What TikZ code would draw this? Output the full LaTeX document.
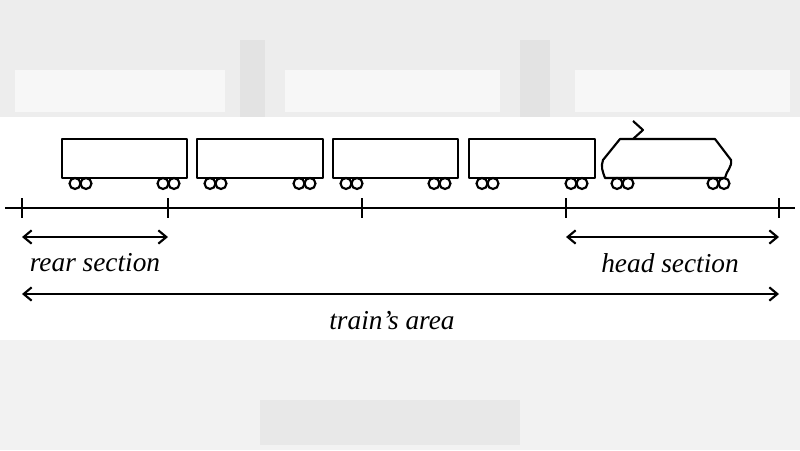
\documentclass[tikz,border=0pt]{standalone}
\usepackage{fontspec}
\setmainfont{Liberation Serif}
\usetikzlibrary{arrows.meta}
\begin{document}
\begin{tikzpicture}[x=0.75pt,y=-0.75pt,
  line/.style={line width=1.6pt, line join=round},
  wheel/.style={line width=1.6pt, fill=white},
  tick/.style={line width=1.3pt},
  dim/.style={line width=1.6pt,{Straight Barb[length=6pt,width=10pt]}-{Straight Barb[length=6pt,width=10pt]}},
  lab/.style={font=\fontsize{20.5}{24}\selectfont\itshape}]
\useasboundingbox (0,0) rectangle (800,450);
% blurred background bands
\fill[black!7] (0,0) rectangle (800,117);
\fill[black!3] (15,70) rectangle (225,112);
\fill[black!3] (285,70) rectangle (500,112);
\fill[black!3] (575,70) rectangle (790,112);
\fill[black!11] (240,40) rectangle (265,117);
\fill[black!11] (520,40) rectangle (550,117);
\fill[black!5] (0,340) rectangle (800,450);
\fill[black!9] (260,400) rectangle (520,445);
% cars
\foreach \i/\a/\b in {1/62/187,2/197/323,3/333/458,4/469/595}{
  \draw[line] (\a,139) rectangle (\b,178);
  \node[inner sep=0] (car\i) at ({(\a+\b)/2},158) {};
  \foreach \w in {\a+13,\a+24,\b-24,\b-13}
    \draw[wheel] (\w,183.5) circle (5.5);
}
% locomotive
\draw[line] (620,139) -- (715,139) -- (731,160) to[out=-80,in=80] (725,178) -- (605,178) to[out=110,in=-110] (603,160) -- cycle;
\node[inner sep=0] (loco) at (667,158) {};
\draw[line] (633,139) -- (643,130) -- (633,121);
\foreach \w in {617,628,713,724}
  \draw[wheel] (\w,183.5) circle (5.5);
% track
\draw[line] (5,208) -- (795,208);
\foreach \n/\x in {t1/22,t2/168,t3/362,t4/566,t5/779}{
  \coordinate (\n) at (\x,208);
  \draw[tick] (\x,198) -- (\x,218);
}
% dimensions
\coordinate (r1) at (22,237); \coordinate (r2) at (168,237);
\coordinate (h1) at (566,237); \coordinate (h2) at (779,237);
\coordinate (a1) at (22,294); \coordinate (a2) at (779,294);
\draw[dim] (r1) -- (r2);
\draw[dim] (h1) -- (h2);
\draw[dim] (a1) -- (a2);
\node[lab] (rear) at (95,263) {rear section};
\node[lab] (head) at (670,263) {head section};
\node[lab] (area) at (392,321) {train’s area};
\end{tikzpicture}
\end{document}
